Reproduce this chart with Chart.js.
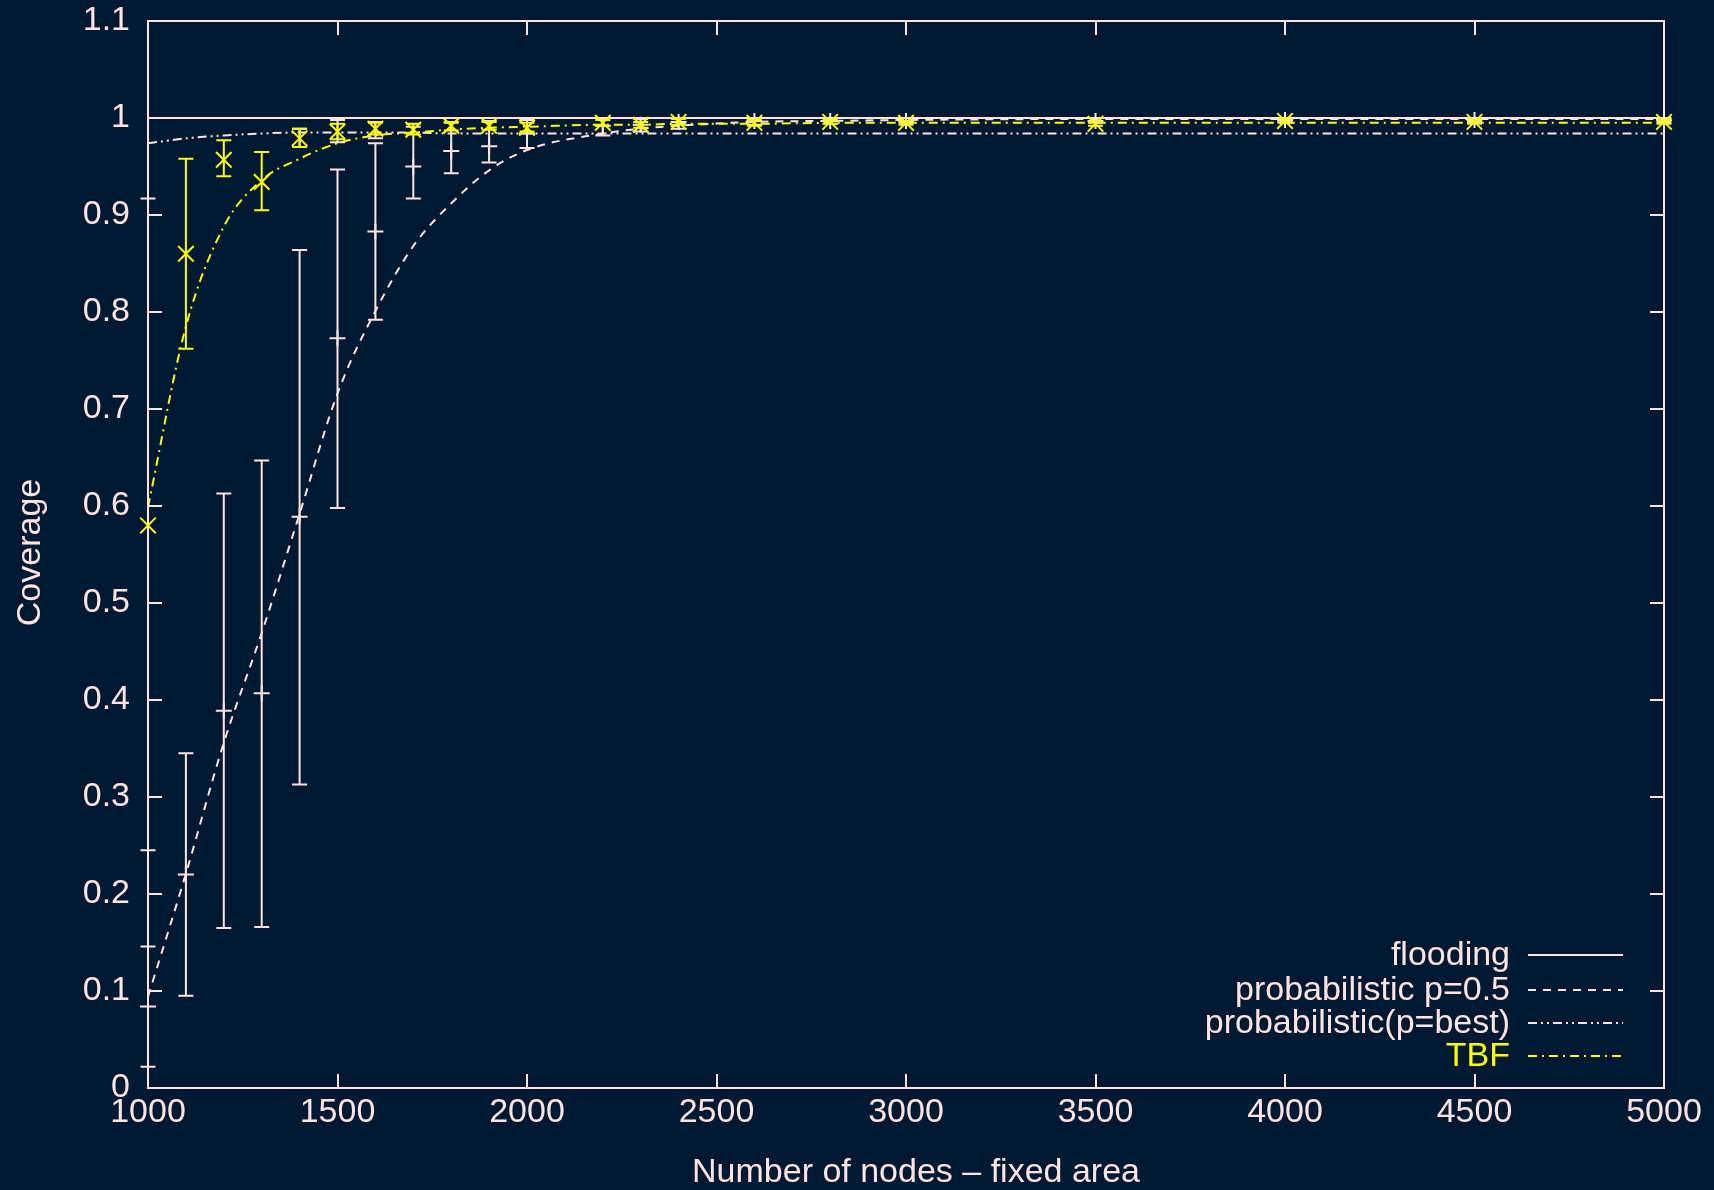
<!DOCTYPE html>
<html>
<head>
<meta charset="utf-8">
<script src="https://cdn.jsdelivr.net/npm/chart.js@4/dist/chart.umd.min.js"></script>
<style>
  html, body { margin: 0; padding: 0; background: #001933; }
  canvas { display: block; }
</style>
</head>
<body>
<canvas id="c" width="1714" height="1190"></canvas>
<script>
// Number of nodes in the fixed area
const nodes = [1000, 1100, 1200, 1300, 1400, 1500, 1600, 1700, 1800, 1900, 2000,
               2200, 2300, 2400, 2600, 2800, 3000, 3500, 4000, 4500, 5000];

const xTicks = [1000, 1500, 2000, 2500, 3000, 3500, 4000, 4500, 5000];
const xTickLabels = ['1000', '1500', '2000', '2500', '3000', '3500', '4000', '4500', '5000'];
const yTicks = [0, 0.1, 0.2, 0.3, 0.4, 0.5, 0.6, 0.7, 0.8, 0.9, 1, 1.1];
const yTickLabels = ['0', '0.1', '0.2', '0.3', '0.4', '0.5', '0.6', '0.7', '0.8', '0.9', '1', '1.1'];

const xTitle = 'Number of nodes – fixed area';
const yTitle = 'Coverage';

// flooding always reaches every node
const flooding = [1, 1, 1, 1, 1, 1, 1, 1, 1, 1, 1, 1, 1, 1, 1, 1, 1, 1, 1, 1, 1];

// probabilistic p=0.5: mean coverage and spread
const prob05Mean = [0.084, 0.220, 0.389, 0.407, 0.589, 0.773, 0.883, 0.950, 0.966, 0.971, 0.984,
                    0.992, 0.993, 0.996, 0.997, 0.997, 0.997, 0.997, 0.998, 0.998, 0.998];
const prob05Low  = [0.022, 0.095, 0.165, 0.166, 0.313, 0.598, 0.792, 0.917, 0.943, 0.954, 0.969,
                    0.982, 0.986, 0.989, 0.993, 0.994, 0.995, 0.995, 0.996, 0.996, 0.996];
const prob05High = [0.146, 0.345, 0.613, 0.647, 0.864, 0.947, 0.974, 0.991, 0.995, 0.997, 0.998,
                    1.000, 0.999, 1.000, 1.000, 1.000, 1.000, 1.000, 1.000, 1.000, 1.000];
const prob05Curve = [0.094, 0.221, 0.356, 0.469, 0.592, 0.716, 0.801, 0.868, 0.912, 0.946, 0.967,
                     0.984, 0.989, 0.992, 0.996, 0.997, 0.998, 0.999, 0.999, 0.999, 0.999];

// probabilistic with the best p
const bestLow  = [0.245, null, null, null, 0.970, 0.975, 0.979, null, null, null, null,
                  null, null, null, null, null, null, null, null, null, null];
const bestHigh = [0.917, null, null, null, 0.989, 0.998, 0.996, null, null, null, null,
                  null, null, null, null, null, null, null, null, null, null];
const bestCurve = [0.974, 0.979, 0.982, 0.984, 0.985, 0.985, 0.985, 0.985, 0.984, 0.984, 0.984,
                   0.984, 0.984, 0.984, 0.984, 0.984, 0.984, 0.984, 0.984, 0.984, 0.984];

// TBF
const tbfMean = [0.580, 0.860, 0.957, 0.934, 0.979, 0.986, 0.989, 0.988, 0.992, 0.992, 0.990,
                 0.995, 0.993, 0.996, 0.995, 0.996, 0.995, 0.994, 0.997, 0.996, 0.996];
const tbfLow  = [null, 0.762, 0.940, 0.905, 0.970, 0.978, 0.983, 0.983, 0.987, 0.988, 0.986,
                 0.992, 0.990, 0.993, 0.992, 0.994, 0.993, 0.992, 0.995, 0.994, 0.994];
const tbfHigh = [null, 0.958, 0.977, 0.965, 0.989, 0.994, 0.995, 0.994, 0.996, 0.996, 0.995,
                 0.998, 0.996, 0.999, 0.998, 0.998, 0.997, 0.996, 0.999, 0.998, 0.998];
const tbfCurve = [0.599, 0.785, 0.888, 0.936, 0.958, 0.974, 0.982, 0.985, 0.988, 0.990, 0.991,
                  0.993, 0.993, 0.994, 0.994, 0.995, 0.995, 0.995, 0.995, 0.995, 0.995];

const FG = '#ffe4e1';
const YEL = '#ffff00';
const FONT = '"Liberation Sans", Arial, Helvetica, sans-serif';

const pts = arr => nodes.map((x, i) => ({ x: x, y: arr[i] }));

const DASH_P05 = [8, 7];
const DASH_BEST = [9, 4, 2, 4, 2, 4];
const DASH_TBF = [9, 5, 2, 5];

// Error bars with end caps, drawn beneath the dataset's markers
const errorBars = {
  id: 'errorBars',
  beforeDatasetDraw(chart, args) {
    const ds = chart.data.datasets[args.index];
    if (!ds.errLow) return;
    const ctx = chart.ctx, sx = chart.scales.x, sy = chart.scales.y;
    ctx.save();
    ctx.strokeStyle = ds.errColor;
    ctx.lineWidth = 2;
    ctx.setLineDash([]);
    ds.data.forEach((p, i) => {
      const lo = ds.errLow[i], hi = ds.errHigh[i];
      if (lo == null || hi == null) return;
      const px = sx.getPixelForValue(p.x);
      const y0 = sy.getPixelForValue(lo), y1 = sy.getPixelForValue(hi);
      ctx.beginPath();
      ctx.moveTo(px, y0); ctx.lineTo(px, y1);
      ctx.moveTo(px - 7.5, y0); ctx.lineTo(px + 7.5, y0);
      ctx.moveTo(px - 7.5, y1); ctx.lineTo(px + 7.5, y1);
      ctx.stroke();
    });
    ctx.restore();
  }
};

// Plot border with inward ticks, mirrored on the top and right edges
const frame = {
  id: 'frame',
  beforeDatasetsDraw(chart) {
    const ctx = chart.ctx, a = chart.chartArea, sx = chart.scales.x, sy = chart.scales.y;
    const T = 14;
    ctx.save();
    ctx.strokeStyle = FG;
    ctx.lineWidth = 2;
    ctx.beginPath();
    xTicks.forEach(v => {
      const px = Math.round(sx.getPixelForValue(v));
      ctx.moveTo(px, a.bottom); ctx.lineTo(px, a.bottom - T);
      ctx.moveTo(px, a.top); ctx.lineTo(px, a.top + T);
    });
    yTicks.forEach(v => {
      const py = Math.round(sy.getPixelForValue(v));
      ctx.moveTo(a.left, py); ctx.lineTo(a.left + T, py);
      ctx.moveTo(a.right, py); ctx.lineTo(a.right - T, py);
    });
    ctx.stroke();
    ctx.strokeRect(a.left, a.top, a.right - a.left, a.bottom - a.top);
    ctx.restore();
  }
};

// Axis titles and the key in the lower right
const annotations = {
  id: 'annotations',
  afterDatasetsDraw(chart) {
    const ctx = chart.ctx, a = chart.chartArea;
    ctx.save();
    ctx.font = '34px ' + FONT;
    ctx.textBaseline = 'middle';
    ctx.fillStyle = FG;

    ctx.textAlign = 'center';
    ctx.fillText(xTitle, (a.left + a.right) / 2 + 10, 1173);
    ctx.save();
    ctx.translate(31, (a.top + a.bottom) / 2 - 2);
    ctx.rotate(-Math.PI / 2);
    ctx.fillText(yTitle, 0, 0);
    ctx.restore();

    const rows = [955, 990, 1023, 1056];
    ctx.textAlign = 'right';
    chart.data.datasets.filter(d => d.keyRow != null).forEach(d => {
      const y = rows[d.keyRow];
      ctx.fillStyle = d.keyText;
      ctx.fillText(d.label, 1510, y + 1);
      ctx.strokeStyle = d.borderColor;
      ctx.lineWidth = 2;
      ctx.setLineDash(d.borderDash || []);
      ctx.beginPath();
      ctx.moveTo(1528, y); ctx.lineTo(1623, y);
      ctx.stroke();
    });
    ctx.restore();
  }
};

const curve = (label, data, color, dash, order, row, textColor) => ({
  label: label, data: pts(data), showLine: true, borderColor: color, borderWidth: 2,
  borderDash: dash, pointRadius: 0, cubicInterpolationMode: 'monotone', order: order,
  keyRow: row, keyText: textColor
});

new Chart(document.getElementById('c'), {
  type: 'scatter',
  data: {
    datasets: [
      curve('flooding', flooding, FG, [], 6, 0, FG),
      curve('probabilistic p=0.5', prob05Curve, FG, DASH_P05, 5, 1, FG),
      curve('probabilistic(p=best)', bestCurve, FG, DASH_BEST, 4, 2, FG),
      curve('TBF', tbfCurve, YEL, DASH_TBF, 3, 3, YEL),
      { label: 'p=best spread', data: pts(bestCurve), pointRadius: 0, showLine: false,
        errLow: bestLow, errHigh: bestHigh, errColor: FG, order: 2, clip: false },
      { label: 'p=0.5 mean', data: pts(prob05Mean), showLine: false, pointStyle: 'cross',
        pointRadius: 8, borderColor: FG, backgroundColor: FG, pointBorderWidth: 2,
        errLow: prob05Low, errHigh: prob05High, errColor: FG, order: 1, clip: false },
      { label: 'TBF mean', data: pts(tbfMean), showLine: false, pointStyle: 'crossRot',
        pointRadius: 11, borderColor: YEL, backgroundColor: YEL, pointBorderWidth: 2,
        errLow: tbfLow, errHigh: tbfHigh, errColor: YEL, order: 0, clip: false }
    ]
  },
  options: {
    responsive: false,
    animation: false,
    devicePixelRatio: 1,
    layout: { padding: { top: 21, right: 50, left: 0, bottom: 0 } },
    plugins: { legend: { display: false }, tooltip: { enabled: false } },
    scales: {
      x: {
        type: 'linear', min: 1000, max: 5000,
        afterBuildTicks: s => { s.ticks = xTicks.map(v => ({ value: v })); },
        afterFit: s => { s.height = 102; s.paddingLeft = 0; s.paddingRight = 0; },
        grid: { display: false, drawTicks: false },
        border: { display: false },
        ticks: { color: FG, font: { family: FONT, size: 34 }, padding: 4,
                 maxRotation: 0, autoSkip: false,
                 callback: (v, i) => xTickLabels[i] }
      },
      y: {
        type: 'linear', min: 0, max: 1.1,
        afterBuildTicks: s => { s.ticks = yTicks.map(v => ({ value: v })); },
        afterFit: s => { s.width = 148; s.paddingTop = 0; s.paddingBottom = 0; },
        grid: { display: false, drawTicks: false },
        border: { display: false },
        ticks: { color: FG, font: { family: FONT, size: 34 }, padding: 18, autoSkip: false,
                 callback: (v, i) => yTickLabels[i] }
      }
    }
  },
  plugins: [frame, errorBars, annotations]
});
</script>
</body>
</html>
